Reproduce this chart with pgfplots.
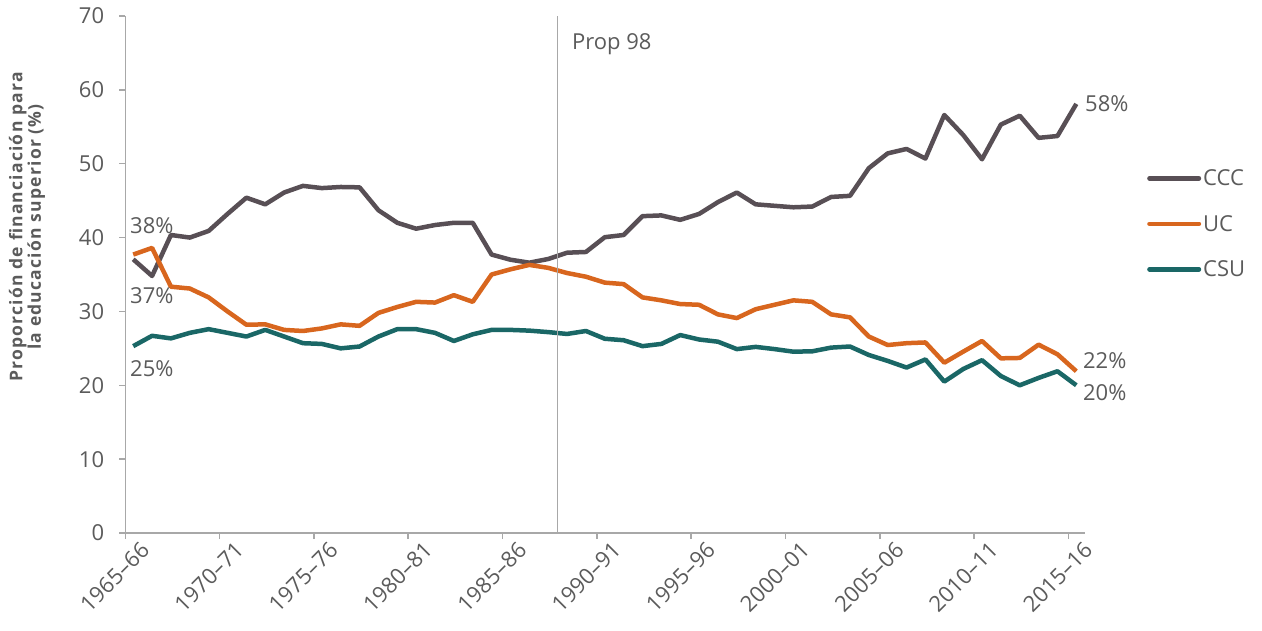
\documentclass[border=0pt]{standalone}
\usepackage{fontspec}
\setmainfont{Open Sans}
\usepackage{pgfplots}
\pgfplotsset{compat=1.18}
\definecolor{ccc}{HTML}{584F55}
\definecolor{uc}{HTML}{D8661E}
\definecolor{csu}{HTML}{1A6766}
\definecolor{textgray}{HTML}{5B5B5B}
\definecolor{axisgray}{HTML}{A8A8A8}
\newcommand{\lbl}{\fontsize{22}{26}\selectfont}
\begin{document}
\begin{tikzpicture}
\useasboundingbox (-125.3pt,-97pt) rectangle (1136.7pt,533pt);
\begin{axis}[
  at={(0pt,0pt)}, anchor=south west,
  scale only axis, width=959.7pt, height=517pt,
  xmin=-0.42, xmax=50.46, ymin=0, ymax=70,
  axis x line*=bottom, axis y line*=left,
  axis line style={color=axisgray, line width=1.5pt},
  tick style={color=axisgray, line width=1.5pt},
  major tick length=6pt, tick align=outside,
  xtick={-0.42,4.58,9.58,14.58,19.58,24.58,29.58,34.58,39.58,44.58,49.58},
  xticklabels={1965--66,1970--71,1975--76,1980--81,1985--86,1990--91,1995--96,2000--01,2005--06,2010--11,2015--16},
  ytick={0,10,20,30,40,50,60,70},
  /pgf/number format/assume math mode=true,
  ticklabel style={font=\lbl, text=textgray},
  xticklabel style={rotate=45, anchor=north east, inner sep=1pt, xshift=10pt, yshift=-10pt},
  yticklabel style={inner sep=2pt, xshift=-13pt},
  ylabel={Proporción de financiación para\\la educación superior (\%)},
  ylabel style={at={(axis description cs:-0.1024,0.592)}, anchor=center, align=center, font=\bfseries\fontsize{17.5}{16.5}\selectfont\addfontfeatures{LetterSpace=7}, text=textgray},
  legend style={at={(1.0646,0.707)}, anchor=north west, draw=none, fill=none, font=\lbl, text=textgray, row sep=24pt, inner sep=0pt,
    /tikz/every even column/.append style={column sep=4pt}},
  legend cell align=left,
  legend image code/.code={\draw[#1, line width=4.5pt, line cap=round] (2.25pt,0pt) -- (51.75pt,0pt);},
  every axis plot/.append style={line width=4.5pt, line join=round, mark=none},
  clip=false,
]
\addplot[ccc] coordinates {
(0,37.06)(1,34.8)(2,40.35)(3,40.0)(4,40.9)(5,43.2)(6,45.4)(7,44.5)(8,46.1)(9,47.0)
(10,46.7)(11,46.85)(12,46.8)(13,43.7)(14,42.0)(15,41.2)(16,41.7)(17,42.0)(18,42.0)(19,37.7)
(20,37.0)(21,36.6)(22,37.1)(23,37.95)(24,38.05)(25,40.05)(26,40.35)(27,42.9)(28,43.0)(29,42.4)
(30,43.2)(31,44.8)(32,46.1)(33,44.5)(34,44.3)(35,44.1)(36,44.2)(37,45.5)(38,45.65)(39,49.4)
(40,51.4)(41,52.0)(42,50.7)(43,56.6)(44,53.9)(45,50.6)(46,55.3)(47,56.5)(48,53.5)(49,53.75)
(50,58.1)};
\addlegendentry{CCC}
\addplot[uc] coordinates {
(0,37.7)(1,38.6)(2,33.35)(3,33.1)(4,31.9)(5,30.0)(6,28.2)(7,28.25)(8,27.5)(9,27.35)
(10,27.7)(11,28.25)(12,28.05)(13,29.8)(14,30.6)(15,31.3)(16,31.2)(17,32.2)(18,31.3)(19,35.0)
(20,35.7)(21,36.3)(22,35.9)(23,35.2)(24,34.7)(25,33.9)(26,33.7)(27,31.9)(28,31.5)(29,31.0)
(30,30.9)(31,29.6)(32,29.1)(33,30.3)(34,30.9)(35,31.5)(36,31.3)(37,29.6)(38,29.2)(39,26.6)
(40,25.45)(41,25.7)(42,25.8)(43,23.06)(44,24.55)(45,26.0)(46,23.65)(47,23.7)(48,25.5)(49,24.2)
(50,21.9)};
\addlegendentry{UC}
\addplot[csu] coordinates {
(0,25.3)(1,26.7)(2,26.35)(3,27.1)(4,27.6)(5,27.1)(6,26.6)(7,27.5)(8,26.6)(9,25.7)
(10,25.6)(11,25.0)(12,25.25)(13,26.6)(14,27.6)(15,27.6)(16,27.1)(17,26.0)(18,26.9)(19,27.5)
(20,27.5)(21,27.4)(22,27.2)(23,26.95)(24,27.35)(25,26.3)(26,26.1)(27,25.3)(28,25.6)(29,26.8)
(30,26.2)(31,25.9)(32,24.9)(33,25.2)(34,24.9)(35,24.55)(36,24.6)(37,25.1)(38,25.25)(39,24.1)
(40,23.3)(41,22.4)(42,23.5)(43,20.5)(44,22.2)(45,23.4)(46,21.25)(47,20.0)(48,21.0)(49,21.9)
(50,20.0)};
\addlegendentry{CSU}
\addplot[axisgray, line width=1.5pt, forget plot] coordinates {(22.5,0)(22.5,70)};
\node[anchor=west, text=textgray, font=\lbl, inner sep=0pt] at (axis cs:23.26,66.2) {Prop 98};
\node[anchor=west, text=textgray, font=\lbl, inner sep=0pt] at (axis cs:50.46,58.2) {58\%};
\node[anchor=west, text=textgray, font=\lbl, inner sep=0pt] at (axis cs:50.35,23.4) {22\%};
\node[anchor=west, text=textgray, font=\lbl, inner sep=0pt] at (axis cs:50.35,18.95) {20\%};
\node[anchor=west, text=textgray, font=\lbl, inner sep=0pt] at (axis cs:-0.17,41.6) {38\%};
\node[anchor=west, text=textgray, font=\lbl, inner sep=0pt] at (axis cs:-0.17,32.1) {37\%};
\node[anchor=west, text=textgray, font=\lbl, inner sep=0pt] at (axis cs:-0.17,22.3) {25\%};
\end{axis}
\end{tikzpicture}
\end{document}
